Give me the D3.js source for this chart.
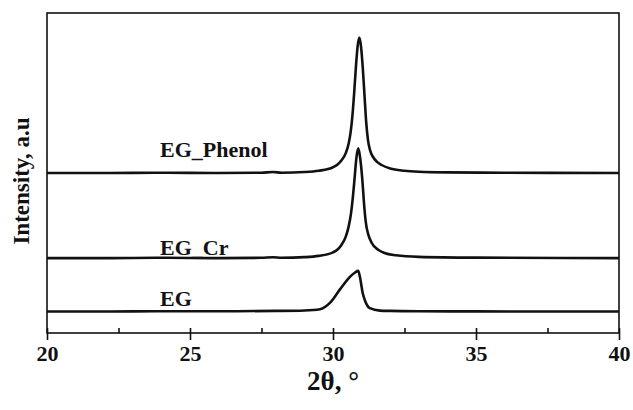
<!DOCTYPE html>
<html>
<head>
<meta charset="utf-8">
<script src="https://cdn.jsdelivr.net/npm/d3@7"></script>
<style>
  html, body { margin: 0; padding: 0; background: #fff; }
  svg { display: block; }
</style>
</head>
<body>
<div id="wrapper"></div>
<script>
/* DATA */
const seriesNames = ['EG', 'EG_Cr', 'EG_Phenol'];
const seriesOffsets = [6.7, 23.4, 50];

const egTheta = [20, 22, 24, 26, 28, 29, 29.55, 29.9, 30.25, 30.6, 30.77, 30.88, 30.94, 31.04, 31.12, 31.29, 31.64, 32, 33, 35, 40];
const egIntensity = [0, 0, 0.1, 0.1, 0.2, 0.35, 0.75, 2.8, 7.0, 10.9, 12.2, 12.7, 10.9, 5.7, 3.4, 1.06, 0.3, 0.2, 0.1, 0.05, 0];

const crTheta = [20, 22, 24, 26, 27.5, 27.9, 28.2, 29, 29.5, 30, 30.15, 30.3, 30.45, 30.55, 30.63, 30.7, 30.76, 30.82, 30.88, 30.93, 30.98, 31.03, 31.09, 31.15, 31.23, 31.35, 31.58, 31.8, 32.2, 33, 35, 40];
const crIntensity = [0, 0, 0.1, 0, 0.1, 0.25, 0.1, 0.3, 0.7, 1.8, 2.6, 4.2, 6.8, 10, 14, 19.5, 25.5, 31.5, 34.3, 32.5, 29, 24, 16.5, 11, 7.5, 4.8, 2.6, 1.6, 0.9, 0.4, 0.15, 0];

const phenolTheta = [20, 22, 24, 26, 27.5, 27.9, 28.2, 29, 29.5, 30, 30.15, 30.3, 30.45, 30.55, 30.62, 30.68, 30.74, 30.8, 30.86, 30.92, 30.98, 31.04, 31.1, 31.16, 31.22, 31.3, 31.4, 31.55, 31.7, 32, 32.5, 33, 34, 36, 40];
const phenolIntensity = [0, 0, 0.1, 0, 0.1, 0.3, 0.1, 0.3, 0.7, 1.8, 2.6, 4.0, 6.3, 9.3, 13, 18, 25, 33, 39.5, 42.3, 39.5, 33, 24.5, 16, 10.5, 7, 5, 3.4, 2.5, 1.4, 0.7, 0.4, 0.2, 0.1, 0];

const labelTheta = [23.95, 23.95, 23.95];
const labelLevel = [8.5, 24.5, 55.1];

const majorTicks = [20, 25, 30, 35, 40];
const minorTicks = [22.5, 27.5, 32.5, 37.5];

const fontFamily = '"Liberation Serif", "Times New Roman", "DejaVu Serif", serif';

/* DIMENSIONS */
const dimensions = {
  width: 633,
  height: 410,
  margin: { top: 13, right: 14, bottom: 77, left: 47 },
};
dimensions.boundedWidth = dimensions.width - dimensions.margin.left - dimensions.margin.right;
dimensions.boundedHeight = dimensions.height - dimensions.margin.top - dimensions.margin.bottom;

/* SCALES */
const xScale = d3.scaleLinear().domain([20, 40]).range([0, dimensions.boundedWidth]);
const yScale = d3.scaleLinear().domain([0, 100]).range([dimensions.boundedHeight, 0]);

const series = [
  { theta: egTheta, values: egIntensity },
  { theta: crTheta, values: crIntensity },
  { theta: phenolTheta, values: phenolIntensity },
].map((s, i) => ({
  name: seriesNames[i],
  points: s.theta.map((t, j) => ({ x: t, y: s.values[j] + seriesOffsets[i] })),
}));

/* DRAW */
const wrapper = d3.select('#wrapper')
  .append('svg')
  .attr('width', dimensions.width)
  .attr('height', dimensions.height);

const bounds = wrapper.append('g')
  .attr('transform', `translate(${dimensions.margin.left},${dimensions.margin.top})`);

const lineGenerator = d3.line()
  .x(d => xScale(d.x))
  .y(d => yScale(d.y))
  .curve(d3.curveMonotoneX);

bounds.append('g')
  .selectAll('path')
  .data(series)
  .join('path')
  .attr('d', d => lineGenerator(d.points))
  .attr('fill', 'none')
  .attr('stroke', '#111')
  .attr('stroke-width', 2.6)
  .attr('stroke-linejoin', 'round');

/* FRAME */
bounds.append('rect')
  .attr('width', dimensions.boundedWidth)
  .attr('height', dimensions.boundedHeight)
  .attr('fill', 'none')
  .attr('stroke', '#111')
  .attr('stroke-width', 1.6);

/* AXES */
const minorAxis = d3.axisBottom(xScale)
  .tickValues(minorTicks)
  .tickSize(-5)
  .tickFormat('');
bounds.append('g')
  .attr('transform', `translate(0,${dimensions.boundedHeight})`)
  .call(minorAxis)
  .call(g => g.select('.domain').remove())
  .call(g => g.selectAll('.tick line').attr('stroke', '#111').attr('stroke-width', 1.6));

const majorAxis = d3.axisBottom(xScale)
  .tickValues(majorTicks)
  .tickSize(7)
  .tickPadding(5)
  .tickFormat(d3.format('d'));
const majorGroup = bounds.append('g')
  .attr('transform', `translate(0,${dimensions.boundedHeight})`)
  .call(majorAxis)
  .call(g => g.select('.domain').remove());
majorGroup.selectAll('.tick line')
  .attr('y1', -5)
  .attr('stroke', '#111')
  .attr('stroke-width', 1.6);
majorGroup.selectAll('.tick text')
  .style('font-family', fontFamily)
  .style('font-size', '22px')
  .style('font-weight', 'bold')
  .attr('fill', '#111');

/* LABELS */
bounds.append('g')
  .selectAll('text')
  .data(seriesNames)
  .join('text')
  .attr('x', (d, i) => xScale(labelTheta[i]))
  .attr('y', (d, i) => yScale(labelLevel[i]))
  .style('font-family', fontFamily)
  .style('font-size', '22px')
  .style('font-weight', 'bold')
  .attr('fill', '#111')
  .text(d => d);

wrapper.append('text')
  .attr('x', dimensions.margin.left + dimensions.boundedWidth / 2)
  .attr('y', 390)
  .attr('text-anchor', 'middle')
  .style('font-family', fontFamily)
  .style('font-size', '27px')
  .style('font-weight', 'bold')
  .attr('fill', '#111')
  .text('2θ, °');

wrapper.append('text')
  .attr('transform', `translate(28.5,${dimensions.margin.top + dimensions.boundedHeight / 2 + 8}) rotate(-90)`)
  .attr('text-anchor', 'middle')
  .style('font-family', fontFamily)
  .style('font-size', '23px')
  .style('font-weight', 'bold')
  .attr('fill', '#111')
  .text('Intensity, a.u');
</script>
</body>
</html>
